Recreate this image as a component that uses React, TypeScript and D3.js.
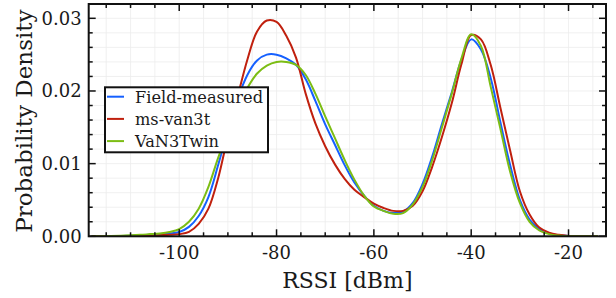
import React, { useEffect } from 'react';
import { scaleLinear, line, curveCatmullRom, range } from 'd3';

// RSSI grid (dBm) and densities
const rssi = [
  -118, -116, -114, -112, -110, -108, -106, -104, -102, -100, -98, -96, -94, -92, -90, -88, -86, -84, -82, -80,
  -78, -76, -74, -72, -70, -68, -66, -64, -62, -60, -58, -56, -54, -52, -50, -48, -46, -44, -42, -40,
  -38, -36, -34, -32, -30, -28, -26, -24, -22, -20, -18, -16, -14,
];

const fieldMeasured = [
  0, 0, 0.00002, 0.00004, 0.00008, 0.00013, 0.0002, 0.0003, 0.0004, 0.0006, 0.0013, 0.0028, 0.0054, 0.0098, 0.0146, 0.0189, 0.0222, 0.0242, 0.025, 0.025,
  0.0245, 0.0236, 0.0216, 0.0186, 0.0154, 0.0126, 0.0098, 0.0074, 0.0056, 0.0042, 0.0035, 0.0032, 0.0034, 0.0046, 0.0072, 0.011, 0.0155, 0.0198, 0.0243, 0.0271,
  0.0257, 0.0218, 0.0157, 0.0098, 0.005, 0.0023, 0.001, 0.0004, 0.00015, 0.00005, 0, 0, 0,
];

const msVan3t = [
  0, 0, 0.00001, 0.00002, 0.00004, 0.00007, 0.0001, 0.00015, 0.0002, 0.0003, 0.0006, 0.0017, 0.0038, 0.008, 0.0138, 0.0192, 0.0243, 0.0282, 0.0297, 0.0295,
  0.0276, 0.0246, 0.0196, 0.0155, 0.0124, 0.0099, 0.0079, 0.0064, 0.0054, 0.0045, 0.0039, 0.0035, 0.0035, 0.0042, 0.0062, 0.0096, 0.0137, 0.0183, 0.0237, 0.0277,
  0.0271, 0.0236, 0.0177, 0.0118, 0.0062, 0.003, 0.0012, 0.0005, 0.0002, 0.00005, 0, 0, 0,
];

const vaN3Twin = [
  0, 0.00002, 0.00004, 0.00008, 0.00013, 0.0002, 0.0003, 0.0004, 0.0006, 0.001, 0.002, 0.0038, 0.0068, 0.0108, 0.0143, 0.0175, 0.0204, 0.0224, 0.0235, 0.024,
  0.024, 0.0236, 0.0222, 0.0196, 0.0165, 0.0135, 0.0105, 0.0078, 0.0056, 0.0041, 0.0035, 0.0031, 0.0032, 0.0044, 0.0068, 0.0105, 0.015, 0.0196, 0.0245, 0.0278,
  0.0262, 0.0206, 0.0148, 0.0089, 0.0046, 0.002, 0.0008, 0.0003, 0.0001, 0, 0, 0, 0,
];

const seriesNames = ['Field-measured', 'ms-van3t', 'VaN3Twin'];
const seriesColors = ['#1560ff', '#c0200e', '#7cbd14'];
const xTickLabels = [-100, -80, -60, -40, -20];
const yTickLabels = [0, 0.01, 0.02, 0.03];

const W = 616;
const H = 298;
const L = 88.7, R = 606, T = 4, B = 236.3;
const FONT = "'DejaVu Serif', serif";

export default function App() {
  useEffect(() => {
    document.body.style.margin = '0';
  }, []);

  const x = scaleLinear().domain([-118.6, -12.3]).range([L, R]);
  const y = scaleLinear().domain([0, 0.03197]).range([B, T]);

  const gen = line<[number, number]>()
    .x(d => x(d[0]))
    .y(d => y(d[1]))
    .curve(curveCatmullRom.alpha(0.5));

  const allSeries = [fieldMeasured, msVan3t, vaN3Twin];

  const xMinor = range(-115, -12, 5);
  const yMinor = range(0, 0.0315, 0.002);
  const majorX = new Set(xTickLabels);

  return (
    <svg width={W} height={H} style={{ display: 'block', background: '#fff' }}>
      <defs>
        <clipPath id="plot">
          <rect x={L} y={T} width={R - L} height={B - T} />
        </clipPath>
      </defs>
      {/* grid */}
      <g stroke="#ececec" strokeWidth={0.8}>
        {xMinor.map(v => (
          <line key={'gx' + v} x1={x(v)} x2={x(v)} y1={T} y2={B} />
        ))}
        {yMinor.map(v => (
          <line key={'gy' + v} x1={L} x2={R} y1={y(v)} y2={y(v)} />
        ))}
      </g>
      {/* curves */}
      <g clipPath="url(#plot)" fill="none" strokeWidth={2}>
        {allSeries.map((s, i) => (
          <path key={i} d={gen(rssi.map((r, j) => [r, s[j]] as [number, number])) || ''} stroke={seriesColors[i]} />
        ))}
      </g>
      {/* ticks */}
      <g stroke="#111" strokeWidth={1.5}>
        {xMinor.map(v => {
          const len = majorX.has(v) ? 7 : 4;
          return (
            <g key={'tx' + v}>
              <line x1={x(v)} x2={x(v)} y1={B} y2={B - len} />
              <line x1={x(v)} x2={x(v)} y1={T} y2={T + len} />
            </g>
          );
        })}
        {yMinor.map((v, i) => {
          const len = i % 5 === 0 ? 7 : 4;
          return (
            <g key={'ty' + i}>
              <line x1={L} x2={L + len} y1={y(v)} y2={y(v)} />
              <line x1={R} x2={R - len} y1={y(v)} y2={y(v)} />
            </g>
          );
        })}
      </g>
      <rect x={L} y={T} width={R - L} height={B - T} fill="none" stroke="#111" strokeWidth={2} />
      {/* tick labels */}
      <g fontFamily={FONT} fontSize={18} fill="#1a1a1a">
        {xTickLabels.map(v => (
          <text key={'lx' + v} x={x(v)} y={B + 23} textAnchor="middle">
            {v}
          </text>
        ))}
        {yTickLabels.map(v => (
          <text key={'ly' + v} x={L - 7} y={y(v)} dy="0.36em" textAnchor="end">
            {v.toFixed(2)}
          </text>
        ))}
      </g>
      {/* axis titles */}
      <text x={(L + R) / 2} y={288} textAnchor="middle" fontFamily={FONT} fontSize={22} fill="#1a1a1a">
        RSSI [dBm]
      </text>
      <text
        transform={`translate(32, ${(T + B) / 2 + 1}) rotate(-90)`}
        textAnchor="middle"
        fontFamily={FONT}
        fontSize={23}
        fill="#1a1a1a"
      >
        Probability Density
      </text>
      {/* legend */}
      <g>
        <rect x={105} y={87.3} width={163} height={65} fill="#fff" stroke="#111" strokeWidth={2} />
        {seriesNames.map((n, i) => (
          <g key={n} transform={`translate(0, ${96.7 + i * 22.2})`}>
            <line x1={107} x2={124} y1={0} y2={0} stroke={seriesColors[i]} strokeWidth={2} />
            <text x={135} y={0} dy="0.36em" fontFamily={FONT} fontSize={16.2} fill="#1a1a1a">
              {n}
            </text>
          </g>
        ))}
      </g>
    </svg>
  );
}
